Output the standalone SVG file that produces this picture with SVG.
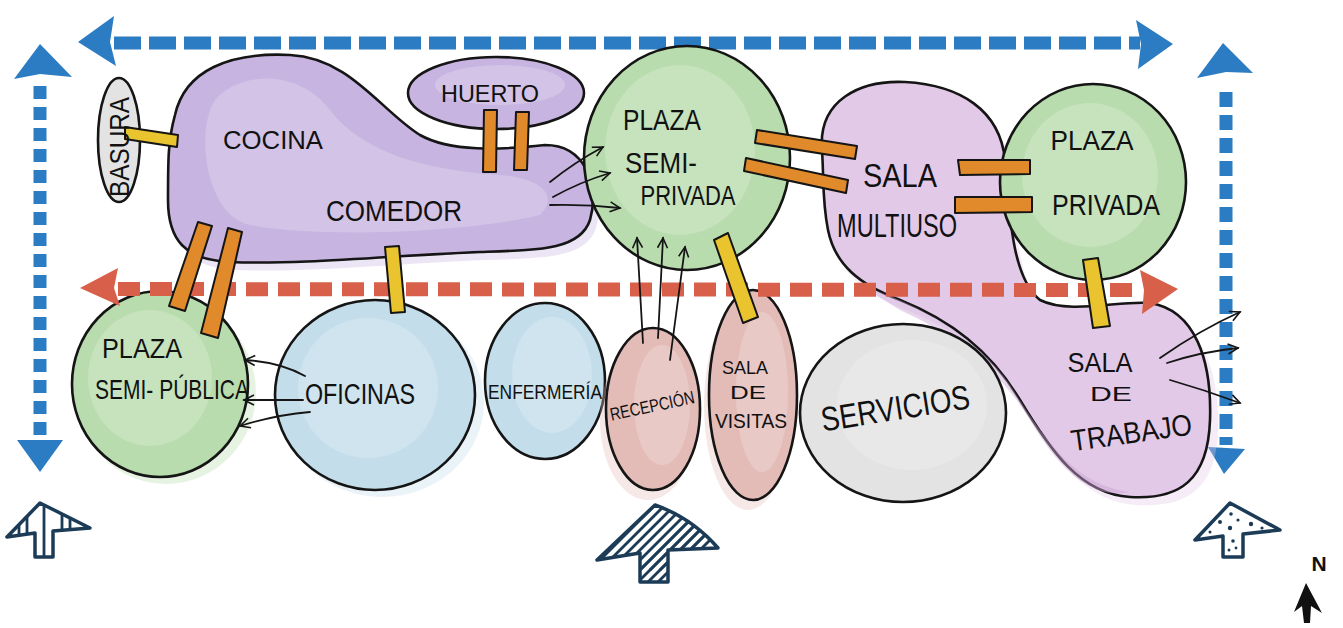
<svg xmlns="http://www.w3.org/2000/svg" width="1343" height="628" viewBox="0 0 1343 628">
<style>
.out{stroke:#151515;stroke-width:2.6;stroke-linejoin:round}
.purple{fill:#c8b4e1}
.lilac{fill:#e3c9e8}
.green{fill:#b8dcad}
.blue{fill:#c3deea}
.rose{fill:#e3bcb8}
.grey{fill:#e3e3e3}
.hl{fill:#ffffff;opacity:0.2}
.bleed{opacity:0.35}
.by{fill:#e9c42e;stroke:#151515;stroke-width:2;stroke-linejoin:round}
.bo{fill:#e08a2b;stroke:#151515;stroke-width:2;stroke-linejoin:round}
.ln{fill:none;stroke:#151515;stroke-width:1.8;stroke-linecap:round;marker-end:url(#chev)}
.lbl{font-family:"Liberation Sans",Arial,sans-serif;fill:#111;text-anchor:middle}
.bluedash{fill:none;stroke:#2b7cc2;stroke-width:13}
.bluehead{fill:#2b7cc2}
.reddash{fill:none;stroke:#d8604a;stroke-width:14}
.redhead{fill:#d8604a}
.entry{fill:#fff;stroke:#1c3b57;stroke-width:3.5;stroke-linejoin:round}
.hatch{stroke:#1c3b57;stroke-width:2.8;fill:none}
</style>
<defs>
<marker id="chev" markerUnits="userSpaceOnUse" markerWidth="14" markerHeight="14" refX="11" refY="6" orient="auto">
<path d="M1,1 L11,6 L1,11" fill="none" stroke="#151515" stroke-width="1.6"/>
</marker>
<clipPath id="clipL"><path d="M40,503 L7,537 L35,533 L35,557 L53,557 L53,531 L90,528 Z"/></clipPath>
<clipPath id="clipM"><path d="M655,505 L597,560 L640,553 L640,582 L668,582 L668,550 L718,548 Q692,518 655,505 Z"/></clipPath>
</defs>
<rect width="1343" height="628" fill="#ffffff"/>

<g id="circulation-top">
<line class="bluedash" x1="114" y1="43" x2="1140" y2="43" stroke-dasharray="27 8"/>
<polygon class="bluehead" points="78,42 114,16 110,42 116,66"/>
<polygon class="bluehead" points="1173,44 1136,20 1141,44 1138,69"/>
</g>
<g id="circulation-left">
<line class="bluedash" x1="40" y1="86" x2="40" y2="440" stroke-width="11" stroke-dasharray="13 8"/>
<polygon class="bluehead" points="40,44 14,79 40,74 72,77"/>
<polygon class="bluehead" points="17,440 63,440 40,472"/>
</g>
<g id="circulation-right">
<line class="bluedash" x1="1226" y1="92" x2="1226" y2="445" stroke-width="13" stroke-dasharray="15 8"/>
<polygon class="bluehead" points="1223,43 1197,78 1226,72 1253,73"/>
<polygon class="bluehead" points="1208,447 1245,449 1224,474"/>
</g>

<g id="cocina-comedor">
<path class="purple bleed" d="M180,120 C190,78 236,62 296,64 C356,68 386,118 426,142 C456,160 506,158 551,153 C591,153 606,193 596,228 C586,258 546,258 486,260 C406,263 306,273 236,270 C190,268 174,248 174,208 Z"/>
<path class="purple out" d="M175,115 C185,70 230,52 290,55 C350,58 380,110 420,135 C450,152 500,150 545,145 C585,145 600,185 590,220 C580,250 540,250 480,252 C400,255 300,265 230,262 C185,260 168,240 168,200 C168,160 168,140 175,115 Z"/>
<path class="hl" d="M215,100 C240,70 300,70 330,110 C360,150 420,170 500,175 C540,178 560,195 540,215 C480,230 330,240 250,225 C205,215 195,130 215,100 Z"/>
</g>
<g id="basura">
<ellipse class="grey out" cx="119" cy="140" rx="21" ry="62"/>
</g>
<g id="huerto">
<ellipse class="purple out" cx="496" cy="93" rx="88" ry="36"/>
<ellipse class="hl" cx="500" cy="85" rx="65" ry="20"/>
</g>
<g id="multiuso-trabajo">
<path class="lilac bleed" d="M828,160 C824,110 866,90 911,92 C966,95 1006,120 1011,170 C1016,240 1021,290 1046,310 C1076,325 1126,310 1156,313 C1201,320 1220,370 1218,430 C1216,490 1186,508 1136,505 C1086,502 1056,460 1026,410 C996,360 956,330 906,310 C866,295 841,275 834,240 Z"/>
<path class="lilac out" d="M822,150 C818,100 860,80 905,82 C960,85 1000,110 1005,160 C1010,230 1015,280 1040,300 C1070,315 1120,300 1150,303 C1195,310 1212,360 1210,420 C1208,480 1180,500 1130,497 C1080,494 1050,450 1020,400 C990,350 950,320 900,300 C860,285 835,265 828,230 C822,200 824,180 822,150 Z"/>
<path fill="#c9a2d3" opacity="0.45" d="M860,285 C920,305 975,335 1010,385 C1045,440 1075,485 1130,492 C1090,500 1060,470 1030,420 C1000,370 955,335 900,310 Z"/>
</g>
<g id="plaza-semi-privada">
<ellipse class="green out" cx="687" cy="158" rx="103" ry="112"/>
<ellipse class="hl" cx="680" cy="150" rx="75" ry="85"/>
</g>
<g id="plaza-privada">
<ellipse class="green out" cx="1093" cy="182" rx="93" ry="98"/>
<ellipse class="hl" cx="1090" cy="175" rx="68" ry="72"/>
</g>
<g id="plaza-semi-publica">
<ellipse class="green bleed" cx="166" cy="392" rx="90" ry="92"/>
<ellipse class="green out" cx="160" cy="384" rx="88" ry="93"/>
<ellipse class="hl" cx="150" cy="378" rx="62" ry="68"/>
</g>
<g id="oficinas">
<ellipse class="blue bleed" cx="382" cy="402" rx="102" ry="95"/>
<ellipse class="blue out" cx="375" cy="395" rx="100" ry="95"/>
<ellipse class="hl" cx="368" cy="388" rx="70" ry="70"/>
</g>
<g id="enfermeria">
<ellipse class="blue out" cx="545" cy="381" rx="60" ry="78"/>
<ellipse class="hl" cx="552" cy="375" rx="40" ry="58"/>
</g>
<g id="recepcion">
<ellipse class="rose bleed" cx="648" cy="420" rx="48" ry="80"/>
<ellipse class="rose out" cx="653" cy="409" rx="47" ry="81"/>
<ellipse class="hl" cx="662" cy="405" rx="28" ry="60"/>
</g>
<g id="sala-de-visitas">
<ellipse class="rose bleed" cx="748" cy="405" rx="44" ry="105"/>
<ellipse class="rose out" cx="753" cy="395" rx="44" ry="105"/>
<ellipse class="hl" cx="762" cy="392" rx="26" ry="80"/>
</g>
<g id="servicios">
<ellipse class="grey out" cx="903" cy="413" rx="103" ry="89"/>
<ellipse class="hl" cx="912" cy="405" rx="75" ry="65"/>
</g>

<g id="circulation-middle">
<line class="reddash" x1="118" y1="289" x2="1142" y2="290" stroke-dasharray="22 10"/>
<polygon class="redhead" points="80,288 118,268 114,288 120,306"/>
<polygon class="redhead" points="1178,289 1140,270 1144,290 1142,314"/>
</g>

<g id="connectors">
<polygon class="by" points="125,127 178,135 177,147 125,139"/>
<polygon class="bo" points="198,222 212,226 185,311 169,306"/>
<polygon class="bo" points="228,228 242,232 218,338 201,333"/>
<polygon class="by" points="385,247 399,246 405,312 391,313"/>
<polygon class="bo" points="484,110 497,110 496,172 483,172"/>
<polygon class="bo" points="516,112 529,112 527,170 514,170"/>
<polygon class="bo" points="757,130 857,146 855,159 755,143"/>
<polygon class="bo" points="746,158 848,180 846,193 744,171"/>
<polygon class="bo" points="958,160 1030,160 1030,174 960,175"/>
<polygon class="bo" points="955,197 1032,197 1032,212 955,213"/>
<polygon class="by" points="714,240 728,233 758,317 743,323"/>
<polygon class="by" points="1083,260 1098,258 1110,326 1093,328"/>
<path class="ln" d="M550,182 Q575,162 603,147"/>
<path class="ln" d="M553,197 Q580,182 610,173"/>
<path class="ln" d="M550,205 Q585,204 620,208"/>
<path class="ln" d="M643,343 L637,238"/>
<path class="ln" d="M658,338 L663,238"/>
<path class="ln" d="M670,360 L685,247"/>
<path class="ln" d="M305,376 Q280,362 245,360"/>
<path class="ln" d="M303,400 L244,400"/>
<path class="ln" d="M310,412 Q275,415 240,426"/>
<path class="ln" d="M1160,358 Q1200,330 1240,312"/>
<path class="ln" d="M1167,363 Q1200,352 1238,348"/>
<path class="ln" d="M1170,380 Q1205,390 1240,403"/>
</g>

<g id="labels">
<text class="lbl" transform="translate(118,147) rotate(-90)" x="0" y="11" font-size="27" textLength="100" lengthAdjust="spacingAndGlyphs">BASURA</text>
<text class="lbl" x="273" y="149" font-size="26" textLength="100" lengthAdjust="spacingAndGlyphs">COCINA</text>
<text class="lbl" x="394" y="221" font-size="30" textLength="136" lengthAdjust="spacingAndGlyphs">COMEDOR</text>
<text class="lbl" x="490" y="102" font-size="24" textLength="98" lengthAdjust="spacingAndGlyphs">HUERTO</text>
<text class="lbl" x="662" y="130" font-size="29" textLength="78" lengthAdjust="spacingAndGlyphs">PLAZA</text>
<text class="lbl" x="661" y="173" font-size="29" textLength="72" lengthAdjust="spacingAndGlyphs">SEMI-</text>
<text class="lbl" x="688" y="205" font-size="28" textLength="95" lengthAdjust="spacingAndGlyphs">PRIVADA</text>
<text class="lbl" x="900" y="187" font-size="33" textLength="74" lengthAdjust="spacingAndGlyphs">SALA</text>
<text class="lbl" x="897" y="237" font-size="33" textLength="120" lengthAdjust="spacingAndGlyphs">MULTIUSO</text>
<text class="lbl" x="1092" y="150" font-size="27" textLength="83" lengthAdjust="spacingAndGlyphs">PLAZA</text>
<text class="lbl" x="1106" y="215" font-size="30" textLength="108" lengthAdjust="spacingAndGlyphs">PRIVADA</text>
<text class="lbl" x="1100" y="372" font-size="27" textLength="65" lengthAdjust="spacingAndGlyphs">SALA</text>
<text class="lbl" x="1111" y="401" font-size="21" textLength="42" lengthAdjust="spacingAndGlyphs">DE</text>
<text class="lbl" transform="rotate(-8 1131 430)" x="1131" y="443" font-size="30" textLength="122" lengthAdjust="spacingAndGlyphs">TRABAJO</text>
<text class="lbl" x="142" y="358" font-size="27" textLength="80" lengthAdjust="spacingAndGlyphs">PLAZA</text>
<text class="lbl" x="172" y="399" font-size="28" textLength="154" lengthAdjust="spacingAndGlyphs">SEMI- PÚBLICA</text>
<text class="lbl" x="360" y="404" font-size="30" textLength="110" lengthAdjust="spacingAndGlyphs">OFICINAS</text>
<text class="lbl" x="545" y="399" font-size="20" textLength="114" lengthAdjust="spacingAndGlyphs">ENFERMERÍA</text>
<text class="lbl" transform="rotate(-12 652 405)" x="652" y="412" font-size="18" textLength="86" lengthAdjust="spacingAndGlyphs">RECEPCIÓN</text>
<text class="lbl" x="745" y="374" font-size="19" textLength="46" lengthAdjust="spacingAndGlyphs">SALA</text>
<text class="lbl" x="748" y="399" font-size="18" textLength="36" lengthAdjust="spacingAndGlyphs">DE</text>
<text class="lbl" x="751" y="428" font-size="21" textLength="72" lengthAdjust="spacingAndGlyphs">VISITAS</text>
<text class="lbl" transform="rotate(-9 895 407)" x="895" y="420" font-size="34" textLength="150" lengthAdjust="spacingAndGlyphs">SERVICIOS</text>
</g>

<g id="entry-west">
<path class="entry" d="M40,503 L7,537 L35,533 L35,557 L53,557 L53,531 L90,528 Z"/>
<g clip-path="url(#clipL)" class="hatch">
<line x1="19" y1="500" x2="19" y2="560"/><line x1="27" y1="500" x2="27" y2="560"/>
<line x1="44" y1="500" x2="44" y2="560"/><line x1="62" y1="500" x2="62" y2="560"/>
<line x1="70" y1="500" x2="70" y2="560"/>
</g>
</g>
<g id="entry-main">
<path class="entry" d="M655,505 L597,560 L640,553 L640,582 L668,582 L668,550 L718,548 Q692,518 655,505 Z"/>
<g clip-path="url(#clipM)" class="hatch">
<line x1="590" y1="570" x2="660" y2="500"/><line x1="600" y1="570" x2="670" y2="500"/>
<line x1="610" y1="570" x2="680" y2="500"/><line x1="620" y1="570" x2="690" y2="500"/>
<line x1="630" y1="570" x2="700" y2="500"/><line x1="640" y1="570" x2="710" y2="500"/>
<line x1="650" y1="570" x2="720" y2="500"/><line x1="660" y1="570" x2="730" y2="500"/>
<line x1="670" y1="570" x2="740" y2="500"/><line x1="630" y1="590" x2="700" y2="520"/>
<line x1="640" y1="590" x2="710" y2="520"/><line x1="650" y1="590" x2="720" y2="520"/>
<line x1="660" y1="590" x2="730" y2="520"/><line x1="620" y1="590" x2="690" y2="520"/>
</g>
</g>
<g id="entry-east">
<path class="entry" d="M1230,503 L1195,540 L1223,536 L1223,557 L1243,557 L1243,534 L1280,530 Z"/>
<g fill="#1c3b57">
<circle cx="1231" cy="514" r="1.8"/><circle cx="1220" cy="522" r="2"/><circle cx="1238" cy="520" r="1.6"/>
<circle cx="1210" cy="532" r="1.5"/><circle cx="1230" cy="528" r="2.2"/><circle cx="1251" cy="524" r="2.2"/>
<circle cx="1262" cy="528" r="1.6"/><circle cx="1233" cy="541" r="1.8"/><circle cx="1229" cy="550" r="1.5"/>
<circle cx="1236" cy="548" r="1.4"/>
</g>
</g>
<g id="north">
<text class="lbl" x="1319" y="571" font-size="21" font-weight="bold">N</text>
<path d="M1306,583 L1294,612 L1302,606 L1304,623 L1310,623 L1311,606 L1322,613 Z" fill="#111"/>
</g>
</svg>
